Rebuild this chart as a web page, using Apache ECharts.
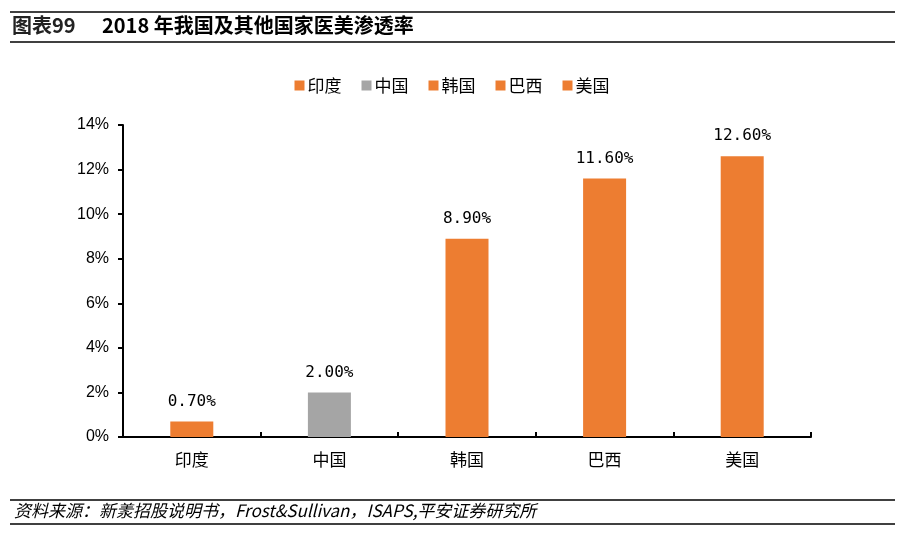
<!DOCTYPE html>
<html><head><meta charset="utf-8">
<script src="https://cdn.jsdelivr.net/npm/echarts@6/dist/echarts.min.js"></script>
<style>html,body{margin:0;padding:0;background:#fff}#c{width:904px;height:535px}</style>
</head><body><div id="c"></div>
<script>
const categories = ['印度','中国','韩国','巴西','美国'];
const values = [0.7, 2.0, 8.9, 11.6, 12.6];
const colors = ['#ED7D31','#A5A5A5','#ED7D31','#ED7D31','#ED7D31'];
const yTicks = [0, 2, 4, 6, 8, 10, 12, 14];

const series = categories.map((name, i) => ({
  name: name,
  type: 'bar',
  stack: 'all',
  barWidth: 43,
  itemStyle: { color: colors[i] },
  data: categories.map((c, j) => j === i ? values[i] : null),
  label: {
    show: true, position: 'top', distance: 12,
    fontFamily: 'DejaVu Sans Mono', fontSize: 16, color: '#000',
    formatter: p => p.value.toFixed(2) + '%'
  }
}));

const chart = echarts.init(document.getElementById('c'), null, { renderer: 'canvas' });
chart.setOption({
  animation: false,
  backgroundColor: '#fff',
  legend: {
    top: 72, left: 'center', itemWidth: 10, itemHeight: 10, itemGap: 20,
    icon: 'rect',
    textStyle: { fontFamily: 'Noto Sans CJK SC', fontSize: 17, color: '#000', padding: [0, 0, 0, -2] },
    data: categories
  },
  grid: { left: 123, right: 93, top: 125, bottom: 98 },
  xAxis: {
    type: 'category', data: categories,
    axisLine: { lineStyle: { color: '#000', width: 2 } },
    axisTick: { show: true, inside: true, length: 5, lineStyle: { color: '#000', width: 2 } },
    axisLabel: { fontFamily: 'Noto Sans CJK SC', fontSize: 17, color: '#000', margin: 14 }
  },
  yAxis: {
    type: 'value', min: 0, max: 14, interval: 2,
    axisLine: { show: true, lineStyle: { color: '#000', width: 2 } },
    axisTick: { show: true, length: 5, lineStyle: { color: '#000', width: 2 } },
    splitLine: { show: false },
    axisLabel: { fontFamily: 'Liberation Sans', fontSize: 16, color: '#000', margin: 14,
      formatter: v => yTicks.includes(v) ? v + '%' : '' }
  },
  series: series,
  graphic: [
    { type: 'line', shape: { x1: 10, y1: 12, x2: 895, y2: 12 }, style: { stroke: '#000', lineWidth: 1.5 } },
    { type: 'line', shape: { x1: 10, y1: 42, x2: 895, y2: 42 }, style: { stroke: '#000', lineWidth: 1.5 } },
    { type: 'text', left: 12, top: 15, style: { text: '图表99', fontFamily: 'Noto Sans CJK SC', fontWeight: 'bold', fontSize: 20, fill: '#222' } },
    { type: 'text', left: 102, top: 15, style: { text: '2018 年我国及其他国家医美渗透率', fontFamily: 'Noto Sans CJK SC', fontWeight: 'bold', fontSize: 20, fill: '#000' } },
    { type: 'line', shape: { x1: 10, y1: 500, x2: 895, y2: 500 }, style: { stroke: '#000', lineWidth: 1.5 } },
    { type: 'text', left: 14, top: 502, style: { text: '资料来源：新羕招股说明书，Frost&Sullivan，ISAPS,平安证券研究所', fontFamily: 'Noto Sans CJK SC', fontStyle: 'italic', fontSize: 17, fill: '#000' } },
    { type: 'line', shape: { x1: 10, y1: 524, x2: 895, y2: 524 }, style: { stroke: '#000', lineWidth: 1.5 } }
  ]
});
</script></body></html>
